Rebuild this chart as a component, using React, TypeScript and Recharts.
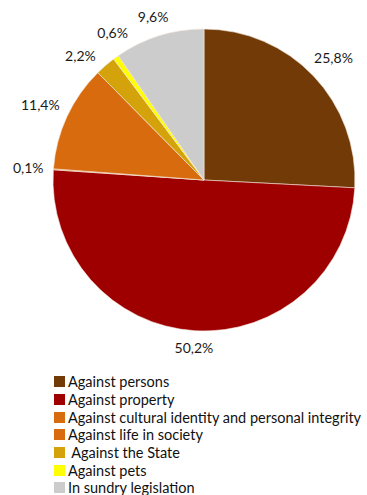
import { PieChart, Pie, Cell } from "recharts";

const categories = [
  "Against persons",
  "Against property",
  "Against cultural identity and personal integrity",
  "Against life in society",
  " Against the State",
  "Against pets",
  "In sundry legislation",
];
const shares = [25.8, 50.2, 0.1, 11.4, 2.2, 0.6, 9.6];
const COLORS = ["#723A06", "#9E0000", "#D86B0E", "#D86B0E", "#D4A20A", "#FFFF00", "#CCCCCC"];

const data = categories.map((name, i) => ({ name, value: shares[i] }));

const FONT = "Lato, 'Open Sans', sans-serif";
const RADIAN = Math.PI / 180;

// label angles (clockwise from 12 o'clock), nudged apart so small slices don't collide
const total = shares.reduce((a, b) => a + b, 0);
const labelAngles: number[] = [];
{
  let acc = 0;
  shares.forEach((v) => {
    labelAngles.push(((acc + v / 2) / total) * 360);
    acc += v;
  });
  const minGap = 13;
  for (let k = 0; k < 20; k++) {
    for (let i = 1; i < labelAngles.length; i++) {
      const gap = labelAngles[i] - labelAngles[i - 1];
      if (gap < minGap) {
        const push = (minGap - gap) / 2;
        labelAngles[i - 1] -= push;
        labelAngles[i] += push;
      }
    }
  }
}

const renderLabel = ({ cx, cy, outerRadius, value, index }: any) => {
  const text = `${value.toFixed(1).replace(".", ",")}%`;
  const w = text.length * 7.4;
  const h = 12;
  const a = labelAngles[index] * RADIAN;
  const c = Math.sin(a);
  const s = -Math.cos(a);
  const r = outerRadius + 10 + Math.abs(c) * w / 2 + Math.abs(s) * h / 2;
  const x = cx + r * c;
  const y = cy + r * s;
  return (
    <text
      key={index}
      x={x}
      y={y}
      fill="#1a1a1a"
      textAnchor="middle"
      dominantBaseline="central"
      fontSize={14}
      fontFamily={FONT}
    >
      {text}
    </text>
  );
};

export default function App() {
  return (
    <div style={{ position: "absolute", left: 0, top: 0, width: 367, height: 495, background: "#fff" }}>
      <PieChart width={367} height={370} margin={{ top: 0, right: 0, bottom: 0, left: 0 }}>
        <Pie
          data={data}
          dataKey="value"
          nameKey="name"
          cx={204}
          cy={180}
          outerRadius={151}
          startAngle={90}
          endAngle={-270}
          stroke="#f4e8dc"
          strokeWidth={0.6}
          label={renderLabel}
          labelLine={false}
          isAnimationActive={false}
        >
          {data.map((_, i) => (
            <Cell key={i} fill={COLORS[i]} />
          ))}
        </Pie>
      </PieChart>
      <div style={{ position: "absolute", top: 373, left: 54, fontFamily: FONT, fontSize: 14.5, color: "#111" }}>
        {data.map((d, i) => (
          <div key={i} style={{ display: "flex", alignItems: "center", height: 17.7, whiteSpace: "pre" }}>
            <span style={{ width: 11, height: 11, background: COLORS[i], marginRight: 3, display: "inline-block" }} />
            <span>{d.name}</span>
          </div>
        ))}
      </div>
    </div>
  );
}
